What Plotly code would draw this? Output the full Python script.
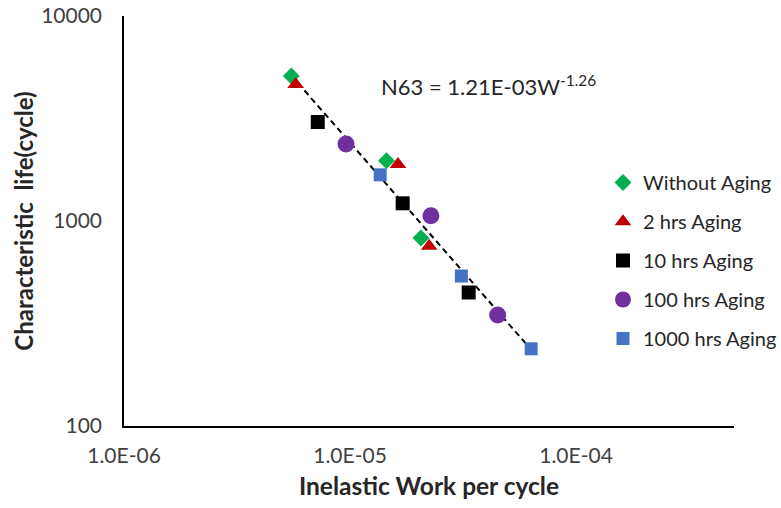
import numpy as np
import plotly.graph_objects as go

# Inelastic work per cycle (W) and characteristic life N63 for each aging condition
series_names = ["Without Aging", "2 hrs Aging", "10 hrs Aging", "100 hrs Aging", "1000 hrs Aging"]

work_without = [5.5e-6, 1.45e-5, 2.06e-5]
life_without = [5100, 1970, 826]

work_2h = [5.75e-6, 1.63e-5, 2.24e-5]
life_2h = [4640, 1890, 755]

work_10h = [7.2e-6, 1.71e-5, 3.35e-5]
life_10h = [3040, 1220, 448]

work_100h = [9.6e-6, 2.28e-5, 4.5e-5]
life_100h = [2375, 1060, 348]

work_1000h = [1.36e-5, 3.11e-5, 6.33e-5]
life_1000h = [1680, 539, 238]

# Power-law fit N63 = A * W^b
fit_coef = 1.21e-03
fit_exp = -1.26

x_tickvals = [1e-6, 1e-5, 1e-4]
x_ticktext = ["1.0E-06", "1.0E-05", "1.0E-04"]
y_tickvals = [100, 1000, 10000]
y_ticktext = ["100", "1000", "10000"]

colors = ["#00B050", "#C00000", "#000000", "#7030A0", "#4472C4"]
symbols = ["diamond", "triangle-up", "square", "circle", "square"]
sizes = [13, 14.5, 14, 17, 13]

works = [work_without, work_2h, work_10h, work_100h, work_1000h]
lives = [life_without, life_2h, life_10h, life_100h, life_1000h]

FONT = "Lato"

fig = go.Figure()

# Fitted trend line across the measured range of W
all_w = np.concatenate([np.array(w) for w in works])
w_line = np.logspace(np.log10(all_w.min()), np.log10(all_w.max()), 50)
n_line = fit_coef * w_line ** fit_exp
fig.add_trace(go.Scatter(
    x=w_line, y=n_line, mode="lines",
    line=dict(color="black", width=2, dash="6px,4px"),
    showlegend=False, hoverinfo="skip",
))

for i, name in enumerate(series_names):
    fig.add_trace(go.Scatter(
        x=works[i], y=lives[i], mode="markers", name=name,
        legendgroup=name,
        marker=dict(symbol=symbols[i], color=colors[i], size=sizes[i], line=dict(width=0)),
    ))

fig.add_annotation(
    x=np.log10(1.34e-5), y=np.log10(4600), xref="x", yref="y",
    text="N63 = 1.21E-03W<sup>-1.26</sup>", showarrow=False,
    xanchor="left", yanchor="middle",
    font=dict(family=FONT, size=22, color="#262626"),
)

fig.update_layout(
    width=781, height=508,
    margin=dict(l=124, r=47, t=16, b=82, autoexpand=False),
    paper_bgcolor="white", plot_bgcolor="white",
    font=dict(family=FONT, color="#262626"),
    showlegend=True,
    legend=dict(
        xref="container", yref="container",
        x=603 / 781, y=1 - 163 / 508, xanchor="left", yanchor="top",
        font=dict(family=FONT, size=20, color="#262626"),
        bgcolor="rgba(0,0,0,0)",
        tracegroupgap=10,
        itemwidth=30,
    ),
)

fig.update_xaxes(
    type="log", range=[-6, np.log10(5e-4)],
    tickvals=x_tickvals, ticktext=x_ticktext,
    showgrid=False, zeroline=False,
    showline=True, linecolor="black", linewidth=1.5,
    ticks="", ticklabelstandoff=10,
    tickfont=dict(family=FONT, size=21, color="#404040"),
    title=dict(text="<b>Inelastic Work per cycle</b>", standoff=12,
               font=dict(family=FONT, size=24.5, color="#262626")),
)
fig.update_yaxes(
    type="log", range=[2, 4],
    tickvals=y_tickvals, ticktext=y_ticktext,
    showgrid=False, zeroline=False,
    showline=True, linecolor="black", linewidth=1.5,
    ticks="", ticklabelstandoff=16,
    tickfont=dict(family=FONT, size=21, color="#404040"),
    title=dict(text="<b>Characteristic  life(cycle)</b>", standoff=1,
               font=dict(family=FONT, size=24, color="#262626")),
)

fig.write_html("out.html")
